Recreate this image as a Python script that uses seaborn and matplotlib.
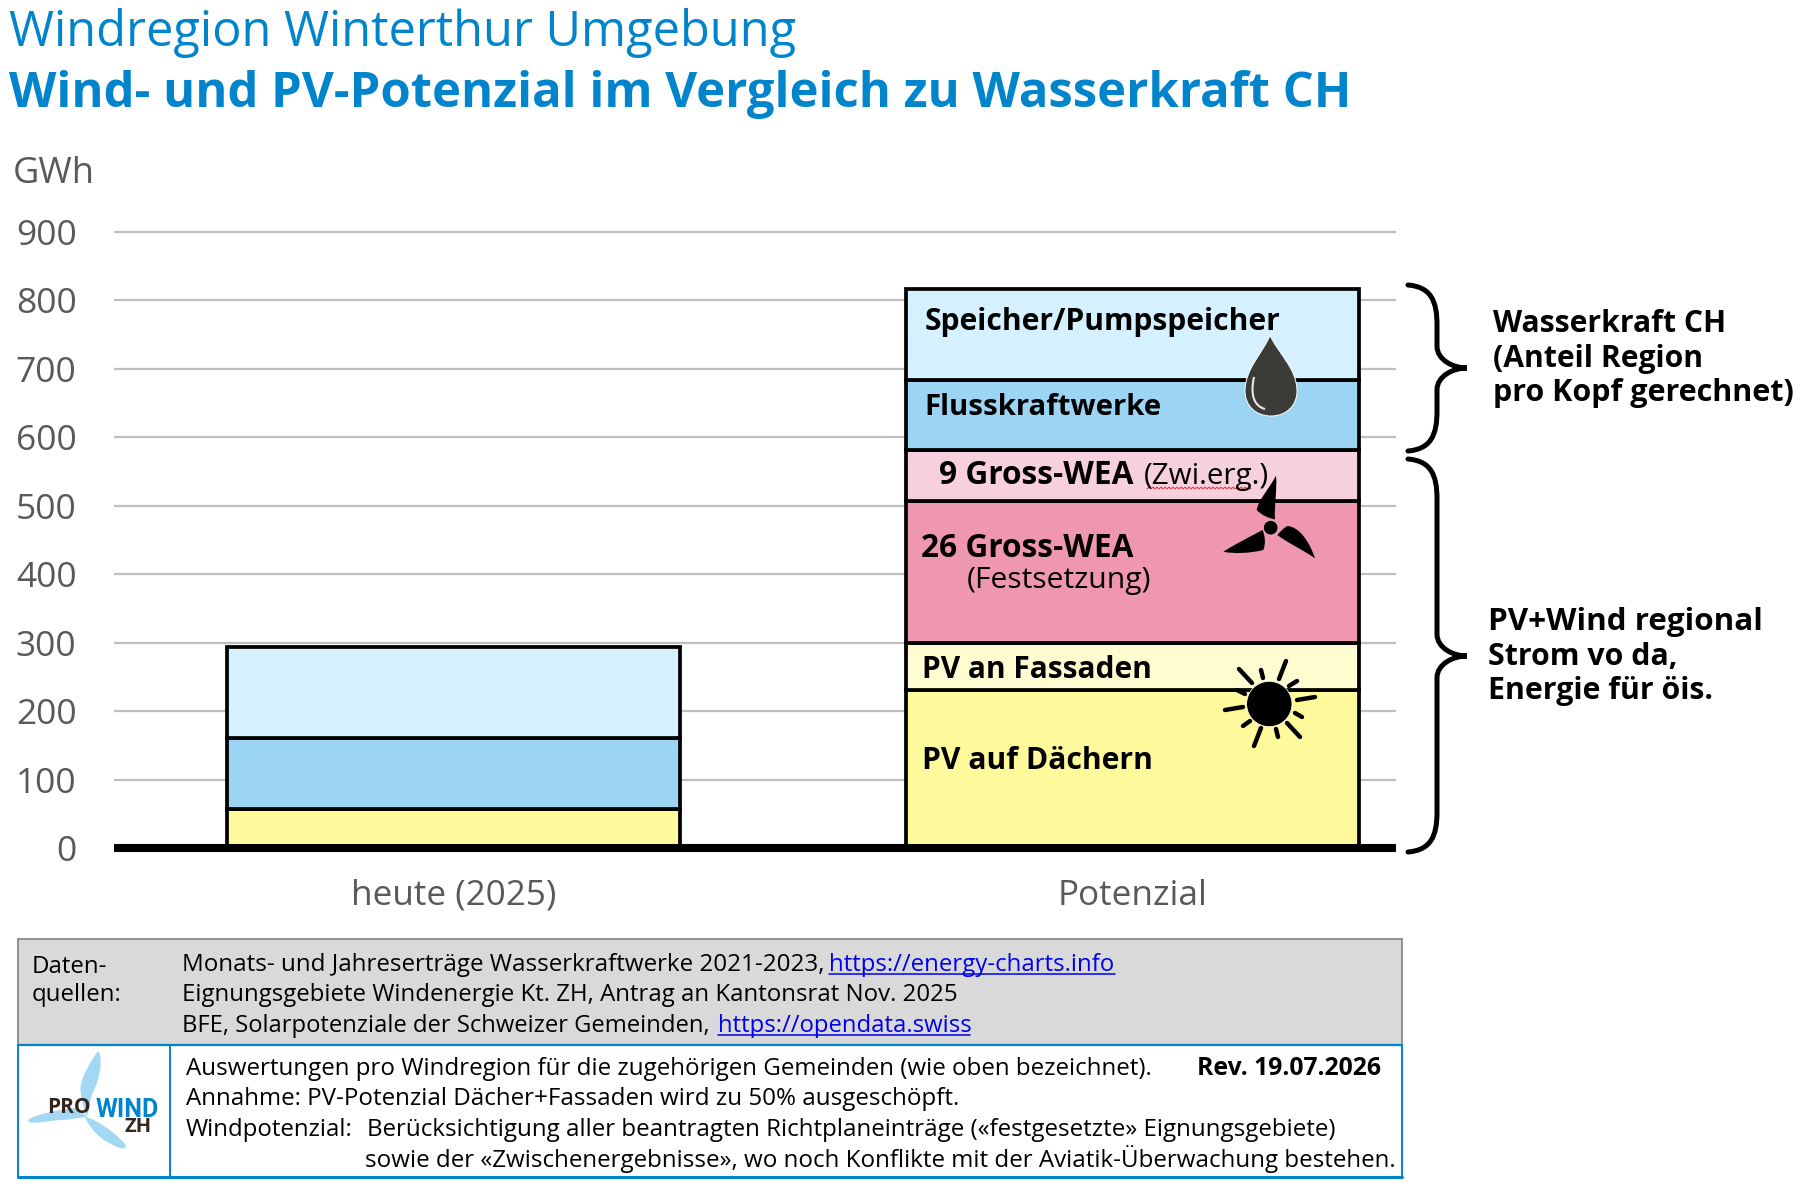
import numpy as np
import pandas as pd
import matplotlib
matplotlib.use("Agg")
import matplotlib.pyplot as plt
from matplotlib.patches import Circle, PathPatch, Rectangle
from matplotlib.path import Path
import seaborn as sns

# values (GWh)
categories = ["heute (2025)", "Potenzial"]
pv_daecher = [57, 230]
pv_fassaden = [0, 69]
wea_26 = [0, 208]
wea_9 = [0, 74]
fluss = [104, 103]
speicher = [133, 133]
y_ticks = [0, 100, 200, 300, 400, 500, 600, 700, 800, 900]

layer_names = ["pv_daecher", "pv_fassaden", "wea_26", "wea_9", "fluss", "speicher"]
layer_colors = ["#FEFA9C", "#FFFCD2", "#EF97AE", "#F6D0DC", "#9CD4F3", "#D5F1FF"]

BLUE = "#0085CC"
GREY = "#595959"
W, H = 1810, 1184

sns.set_theme(style="whitegrid")
plt.rcParams["font.family"] = ["Open Sans", "DejaVu Sans"]

df = pd.DataFrame({"kategorie": categories, "pv_daecher": pv_daecher, "pv_fassaden": pv_fassaden,
                   "wea_26": wea_26, "wea_9": wea_9, "fluss": fluss, "speicher": speicher})

fig = plt.figure(figsize=(W / 100, H / 100), dpi=100)

# main axes, placed in pixels
y0_px, px_per_gwh = 848, 0.6848
y_top = 905
top_px = y0_px - y_top * px_per_gwh
ax = fig.add_axes([114 / W, 1 - y0_px / H, (1396 - 114) / W, (y0_px - top_px) / H])

bottom = np.zeros(len(categories))
for name, color in zip(layer_names, layer_colors):
    values = df[name].to_numpy()
    sns.barplot(data=df, x="kategorie", y=name, bottom=bottom, color=color, saturation=1,
                width=0.667, edgecolor="black", linewidth=2.7, errorbar=None, ax=ax, zorder=3)
    bottom = bottom + values

# zero height layers of the first bar should not leave lines
for bar in ax.patches:
    if bar.get_height() == 0:
        bar.set_visible(False)

ax.set_xlim(-0.5, 1.388)
ax.set_ylim(0, y_top)
ax.set_yticks(y_ticks)
ax.set_xlabel("")
ax.set_ylabel("")
ax.set_axisbelow(True)
ax.grid(axis="y", color="#BFBFBF", linewidth=1.6)
ax.grid(axis="x", visible=False)
ax.patch.set_alpha(0)
for side in ["top", "left", "right"]:
    ax.spines[side].set_visible(False)
ax.spines["bottom"].set_color("black")
ax.spines["bottom"].set_linewidth(5.8)
ax.spines["bottom"].set_capstyle("butt")
ax.spines["bottom"].set_zorder(6)
ax.tick_params(axis="y", length=0, pad=27, labelsize=25.5, labelcolor=GREY)
ax.tick_params(axis="x", length=0, pad=22, labelsize=25.3, labelcolor=GREY)

# overlay in pixel coordinates for texts, icons and the source table
ov = fig.add_axes([0, 0, 1, 1], zorder=5)
ov.set_xlim(0, W)
ov.set_ylim(H, 0)
ov.axis("off")
ov.patch.set_alpha(0)


def txt(x, y, s, size=20, weight="normal", color="black", **kw):
    return ov.text(x, y, s, fontsize=size, fontweight=weight, color=color, va="baseline", **kw)


def link(x0, x1, y, s, size):
    txt(x0, y, s, size, color="#0000EE")
    ov.plot([x0, x1], [y + 3, y + 3], color="#0000EE", lw=1.1)


def brace(x0, xm, xt, y0, ytip, y1):
    verts = [(x0, y0), (xm - 6, y0 + 2), (xm, y0 + 16), (xm, y0 + 40),
             (xm, ytip - 30), (xm, ytip - 25), (xm, ytip - 22),
             (xm, ytip - 8), (xt - 14, ytip), (xt, ytip),
             (xt - 14, ytip), (xm, ytip + 8), (xm, ytip + 22),
             (xm, ytip + 25), (xm, y1 - 45), (xm, y1 - 40),
             (xm, y1 - 16), (xm - 6, y1 - 2), (x0, y1)]
    codes = [Path.MOVETO] + [Path.CURVE4] * 18
    ov.add_patch(PathPatch(Path(verts, codes), fill=False, edgecolor="black", lw=3.6, capstyle="round"))


def shape(points, scale_x, scale_y, off_x, off_y, **kw):
    # closed bezier outline from crop coordinates, first point then triples of control points
    verts = [(off_x + x / scale_x, off_y + y / scale_y) for x, y in points]
    codes = [Path.MOVETO] + [Path.CURVE4] * (len(verts) - 1)
    ov.add_patch(PathPatch(Path(verts, codes), edgecolor="none", **kw))


# titles
txt(9, 46, "Windregion Winterthur Umgebung", 35.1, color=BLUE)
txt(9, 107, "Wind- und PV-Potenzial im Vergleich zu Wasserkraft CH", 35.3, "bold", color=BLUE)
txt(13, 183, "GWh", 26, color=GREY)

# labels in the bar
txt(925, 330, "Speicher/Pumpspeicher", 21.6, "bold")
txt(924, 415, "Flusskraftwerke", 21.2, "bold")
txt(939, 484, "9 Gross-WEA", 22.8, "bold")
txt(1144, 484, "(Zwi.erg.)", 21.3)
txt(921, 557, "26 Gross-WEA", 22.8, "bold")
txt(967, 588, "(Festsetzung)", 21.6)
txt(922, 678, "PV an Fassaden", 21.5, "bold")
txt(922, 769, "PV auf Dächern", 21.7, "bold")

# spell check squiggle below the word
sq_x = np.arange(1147, 1253, 2)
ov.plot(sq_x, 488 + 0.8 * (-1.0) ** np.arange(len(sq_x)), color="#E03030", lw=0.7)

# right side
brace(1408, 1437, 1467, 285, 368, 451)
brace(1408, 1437, 1467, 459, 656, 852)
for y, s, fs_r in zip([332, 367, 401], ["Wasserkraft CH", "(Anteil Region", "pro Kopf gerechnet)"], [21.7, 21.7, 22]):
    txt(1493, y, s, fs_r, "bold")
for y, s, fs_r in zip([630, 665, 699], ["PV+Wind regional", "Strom vo da,", "Energie für öis."], [22.6, 21.8, 21.8]):
    txt(1488, y, s, fs_r, "bold")

# water drop
drop = Path([(1270, 335), (1264, 352), (1245, 368), (1245, 391), (1245, 406), (1256, 416), (1271, 416),
             (1286, 416), (1297, 406), (1297, 391), (1297, 368), (1277, 352), (1270, 335)],
            [Path.MOVETO] + [Path.CURVE4] * 12)
ov.add_patch(PathPatch(drop, facecolor="#3B3B38", edgecolor="white", lw=0.7))
ov.add_patch(PathPatch(Path([(1254, 377), (1250, 395), (1254, 406), (1265, 409)], [Path.MOVETO] + [Path.CURVE4] * 3),
                       fill=False, edgecolor="#E8E8E8", lw=1.5))

# wind turbine
shape([(228, 437), (205, 480), (175, 510), (170, 540), (185, 555), (205, 565), (225, 568),
       (222, 530), (232, 480), (228, 437)], 3, 3, 1200, 330, facecolor="black")
shape([(70, 665), (110, 640), (150, 620), (188, 600), (195, 620), (198, 640), (190, 660),
       (150, 670), (100, 672), (70, 665)], 3, 3, 1200, 330, facecolor="black")
shape([(345, 685), (310, 660), (265, 640), (232, 615), (240, 605), (250, 595), (262, 588),
       (300, 590), (330, 640), (345, 685)], 3, 3, 1200, 330, facecolor="black")
ov.add_patch(Circle((1270.7, 527.7), 7.3, facecolor="black", edgecolor="#F7C0CC", lw=0.5))

# sun
ov.add_patch(Circle((1269.3, 704), 22.7, facecolor="black", edgecolor="#FFFFE0", lw=0.6))
sun_rays = [((1239, 669), (1252, 683)), ((1286, 661), (1279, 679)), ((1315, 697), (1297, 700)),
            ((1300, 737), (1287, 723)), ((1254, 746), (1261, 728)), ((1225, 710), (1243, 707)),
            ((1261, 670), (1263, 678)), ((1297, 681), (1289, 686)), ((1237, 690), (1245, 694)),
            ((1295, 713), (1302, 717)), ((1278, 737), (1276, 729)), ((1243, 726), (1250, 721))]
for a, b in sun_rays:
    ov.plot([a[0], b[0]], [a[1], b[1]], color="black", lw=3.2, solid_capstyle="round")

# source table
ov.add_patch(Rectangle((18, 939), 1384, 106, facecolor="#D9D9D9", edgecolor="#7F7F7F", lw=1.2))
ov.add_patch(Rectangle((18, 1045), 1384, 132, facecolor="white", edgecolor="none"))
ov.plot([18, 1402], [1045, 1045], color=BLUE, lw=1.6)
ov.plot([18, 18], [1045, 1177], color=BLUE, lw=1.4)
ov.plot([1402, 1402], [1045, 1177], color=BLUE, lw=1.4)
ov.plot([170, 170], [1045, 1177], color=BLUE, lw=1.4)
ov.plot([18, 1402], [1177, 1177], color=BLUE, lw=2.2)

fs = 17.3
txt(32, 1001, "Daten-\nquellen:", fs, linespacing=1.23)
txt(182, 971, "Monats- und Jahreserträge Wasserkraftwerke 2021-2023,", fs + 0.1)
link(829, 1115, 971, "https://energy-charts.info", fs)
txt(182, 1001, "Eignungsgebiete Windenergie Kt. ZH, Antrag an Kantonsrat Nov. 2025", fs)
txt(182, 1032, "BFE, Solarpotenziale der Schweizer Gemeinden,", 17.1)
link(718, 970, 1032, "https://opendata.swiss", 17.2)
txt(186, 1075, "Auswertungen pro Windregion für die zugehörigen Gemeinden (wie oben bezeichnet).", 17.4)
txt(1197, 1075, "Rev. 19.07.2026", 17.8, "bold")
txt(186, 1105, "Annahme: PV-Potenzial Dächer+Fassaden wird zu 50% ausgeschöpft.", 17.4)
txt(186, 1136, "Windpotenzial:", fs)
txt(367, 1136, "Berücksichtigung aller beantragten Richtplaneinträge («festgesetzte» Eignungsgebiete)", 17.4)
txt(365, 1167, "sowie der «Zwischenergebnisse», wo noch Konflikte mit der Aviatik-Überwachung bestehen.", 17.4)

# logo
logo_blue = "#A3D8F5"
shape([(250, 18), (225, 50), (190, 110), (197, 140), (200, 170), (210, 200), (215, 215),
       (225, 190), (222, 170), (235, 140), (255, 100), (265, 40), (250, 18)], 3, 3, 15, 1045, facecolor=logo_blue)
shape([(38, 225), (70, 205), (130, 195), (185, 188), (195, 195), (205, 205), (215, 215),
       (170, 225), (120, 225), (90, 230), (60, 235), (40, 235), (38, 225)], 3, 3, 15, 1045, facecolor=logo_blue)
shape([(210, 215), (240, 222), (300, 260), (332, 300), (335, 315), (320, 312), (300, 303),
       (260, 285), (225, 255), (210, 215)], 3, 3, 15, 1045, facecolor=logo_blue)
txt(47, 1113, "PRO", 15, "bold", color="#33261D")
ov.text(96, 1117, "WIND", fontsize=18, fontweight="bold", color=BLUE, va="baseline", family="Roboto")
txt(124, 1132, "ZH", 14.5, "bold", color="#33261D")

fig.savefig("out.png", dpi=100)
